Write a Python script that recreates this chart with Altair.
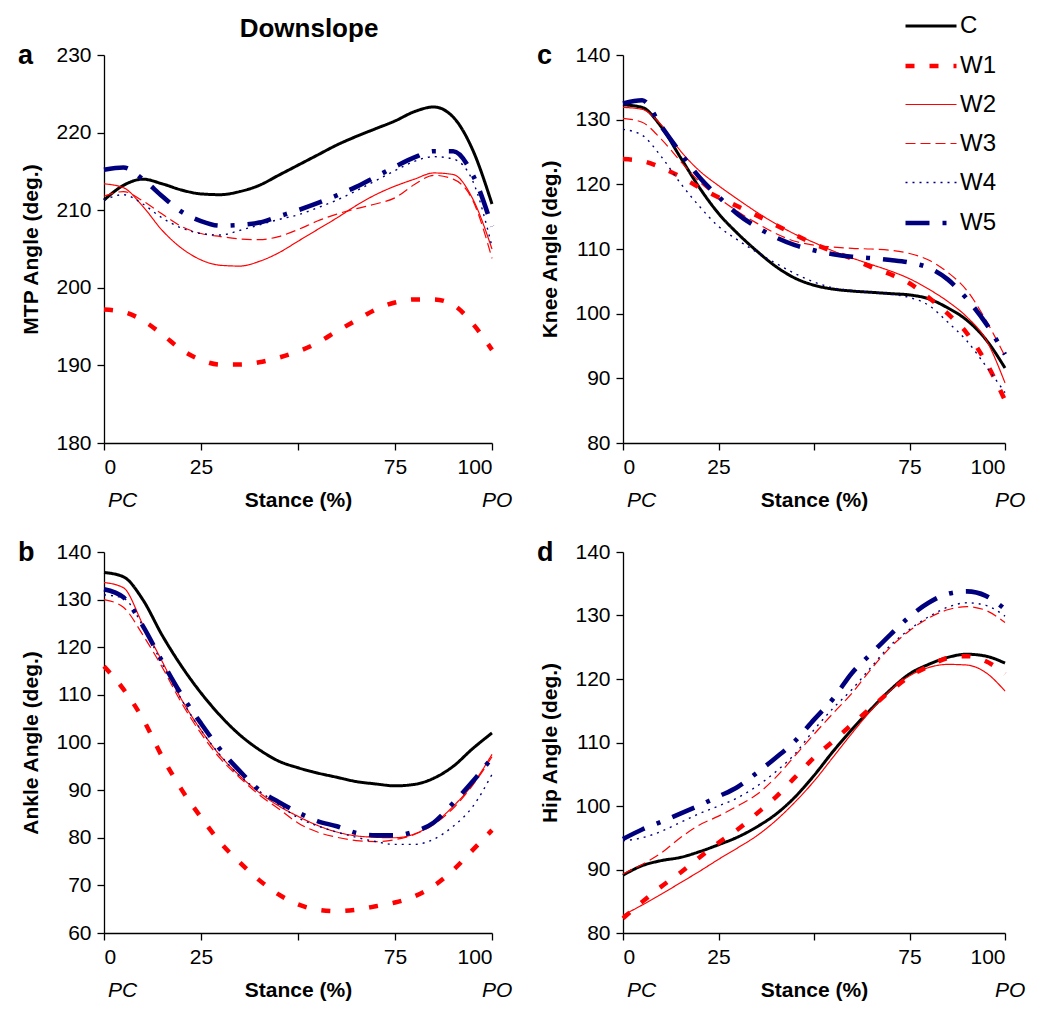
import altair as alt
import pandas as pd

FONT = "Liberation Sans"

stance = [0, 5, 10, 15, 20, 25, 30, 35, 40, 45, 50, 55, 60, 65, 70, 75, 80, 85, 90, 95, 100]
series_names = ["C", "W1", "W2", "W3", "W4", "W5"]
series_colors = ["#000000", "#FF0000", "#FF0000", "#FF0000", "#00007F", "#00007F"]
series_dashes = [[1, 0], [9, 15], [1, 0], [10, 5], [2, 5], [24, 13, 4, 13]]
series_widths = [3.0, 4.5, 1.2, 1.2, 1.4, 4.6]

# a: MTP angle
mtp_C = [211.3, 213.2, 214.0, 213.4, 212.6, 212.1, 212.0, 212.4, 213.2, 214.5, 215.8, 217.1, 218.4, 219.5, 220.5, 221.5, 222.7, 223.3, 222.0, 217.8, 210.8]
mtp_W1 = [197.2, 196.9, 195.8, 194.0, 192.0, 190.7, 190.1, 190.1, 190.4, 191.0, 191.8, 192.9, 194.4, 195.8, 197.2, 198.1, 198.5, 198.5, 197.8, 195.4, 192.0]
mtp_W2 = [213.4, 212.9, 210.5, 207.4, 205.1, 203.6, 202.9, 202.8, 203.4, 204.5, 206.0, 207.5, 209.0, 210.6, 212.0, 213.1, 214.0, 214.8, 214.6, 211.5, 205.0]
mtp_W3 = [211.8, 212.4, 211.2, 209.5, 207.9, 207.0, 206.6, 206.3, 206.2, 206.6, 207.5, 208.6, 209.5, 210.2, 210.8, 211.6, 213.3, 214.5, 214.0, 211.3, 203.8]
mtp_W4 = [211.3, 212.0, 210.8, 209.0, 207.7, 207.0, 206.8, 207.4, 208.1, 208.8, 209.4, 210.3, 211.3, 212.5, 213.8, 215.1, 216.3, 216.9, 216.6, 213.8, 205.3]
mtp_W5 = [215.2, 215.5, 214.0, 211.8, 209.8, 208.6, 208.0, 208.1, 208.4, 209.2, 210.0, 210.9, 211.9, 213.0, 214.3, 215.6, 216.8, 217.6, 217.6, 214.6, 207.9]

# b: Ankle angle
ankle_C = [135.7, 134.8, 130.0, 122.5, 116.0, 110.4, 105.6, 101.6, 98.5, 96.1, 94.7, 93.6, 92.7, 91.8, 91.3, 90.9, 91.2, 92.5, 95.0, 98.7, 102.0]
ankle_W1 = [116.0, 111.2, 105.0, 97.0, 90.1, 84.3, 79.0, 74.8, 71.1, 68.1, 66.0, 64.9, 64.6, 64.9, 65.6, 66.4, 67.7, 69.9, 73.2, 77.4, 81.6]
ankle_W2 = [133.6, 132.5, 124.8, 117.0, 109.0, 102.6, 97.2, 93.0, 89.5, 86.7, 84.5, 82.6, 81.2, 80.4, 80.1, 80.0, 80.8, 83.0, 86.6, 91.2, 97.5]
ankle_W3 = [130.0, 128.4, 122.6, 115.8, 108.3, 101.9, 96.6, 92.6, 89.0, 86.1, 83.1, 81.2, 80.1, 79.4, 79.2, 79.6, 80.7, 82.8, 86.2, 91.0, 97.0]
ankle_W4 = [131.0, 130.3, 124.5, 116.5, 109.0, 102.6, 97.3, 93.0, 89.8, 87.0, 84.2, 82.5, 81.2, 80.1, 79.2, 78.6, 78.6, 79.7, 82.4, 86.5, 93.3]
ankle_W5 = [132.2, 130.5, 124.5, 117.0, 110.0, 104.0, 98.5, 94.0, 90.0, 87.5, 85.3, 83.5, 82.4, 81.0, 80.5, 80.5, 81.3, 83.2, 87.3, 91.8, 96.8]

# c: Knee angle
knee_C = [132.3, 131.9, 128.9, 124.2, 119.5, 115.5, 112.4, 109.7, 107.3, 105.5, 104.4, 103.8, 103.5, 103.3, 103.1, 102.9, 102.3, 100.9, 99.0, 96.0, 91.6]
knee_W1 = [123.9, 123.6, 122.6, 121.2, 119.5, 118.0, 116.6, 115.2, 113.7, 112.2, 110.8, 109.6, 108.5, 107.2, 106.1, 104.7, 102.5, 100.0, 97.0, 92.5, 86.6]
knee_W2 = [131.9, 131.6, 129.2, 125.2, 122.1, 119.8, 117.7, 115.7, 113.9, 112.3, 111.0, 109.7, 108.6, 107.6, 106.6, 105.4, 103.8, 101.9, 99.5, 96.0, 89.3]
knee_W3 = [130.2, 129.6, 127.0, 123.6, 120.4, 117.9, 115.8, 114.0, 112.4, 111.2, 110.6, 110.3, 110.1, 110.0, 109.8, 109.3, 108.3, 106.4, 103.6, 99.0, 93.4]
knee_W4 = [128.5, 127.6, 124.3, 120.2, 116.6, 113.5, 111.4, 109.5, 107.8, 106.2, 104.9, 104.0, 103.6, 103.3, 103.0, 102.5, 101.3, 98.7, 95.8, 91.9, 87.8]
knee_W5 = [132.5, 133.0, 129.0, 124.9, 121.1, 118.1, 115.4, 113.4, 111.8, 110.6, 109.8, 109.2, 108.8, 108.6, 108.3, 107.9, 107.1, 105.3, 102.3, 98.5, 93.7]

# d: Hip angle
hip_C = [89.1, 90.6, 91.4, 91.9, 92.8, 93.9, 95.1, 96.7, 98.7, 101.4, 104.8, 108.6, 112.1, 115.3, 118.3, 120.8, 122.3, 123.4, 123.9, 123.6, 122.5]
hip_W1 = [82.3, 84.9, 87.3, 89.5, 91.9, 94.2, 96.3, 98.8, 101.4, 104.5, 107.6, 110.2, 112.9, 115.5, 118.1, 120.4, 122.0, 123.3, 123.6, 122.8, 120.8]
hip_W2 = [82.8, 84.4, 86.1, 87.9, 89.7, 91.6, 93.4, 95.3, 97.7, 100.6, 103.9, 107.7, 111.5, 115.1, 118.2, 120.5, 121.8, 122.3, 122.2, 121.0, 118.1]
hip_W3 = [89.3, 90.8, 92.6, 95.0, 97.0, 98.4, 100.0, 101.8, 104.5, 107.9, 111.3, 114.6, 117.8, 121.6, 125.0, 127.6, 129.6, 130.9, 131.4, 130.8, 128.9]
hip_W4 = [94.5, 95.0, 96.0, 97.4, 98.8, 100.0, 101.3, 103.1, 105.4, 108.2, 112.0, 115.4, 118.4, 121.9, 125.3, 127.8, 129.8, 131.3, 132.0, 131.6, 129.9]
hip_W5 = [94.8, 96.3, 97.5, 98.8, 100.1, 101.5, 103.0, 105.2, 107.6, 110.2, 113.6, 116.9, 121.0, 124.0, 127.0, 129.8, 132.0, 133.4, 133.8, 133.1, 131.0]


def to_frame(lists):
    rows = []
    for name, vals in zip(series_names, lists):
        for xv, yv in zip(stance, vals):
            rows.append({"x": xv, "series": name, "value": yv})
    return pd.DataFrame(rows)


def panel(lists, ytitle, domain, ticks, letter, width, height, title=None):
    df = to_frame(lists)
    legend = alt.Legend(title=None)
    lines = alt.Chart(df).mark_line(interpolate="monotone").encode(
        x=alt.X("x:Q", scale=alt.Scale(domain=[0, 100], nice=False),
                axis=alt.Axis(values=[0, 25, 50, 75, 100], title="Stance (%)",
                              labelExpr="datum.value == 50 ? '' : datum.label",
                              titlePadding=12)),
        y=alt.Y("value:Q", scale=alt.Scale(domain=domain, nice=False, zero=False),
                axis=alt.Axis(values=ticks, title=ytitle, titlePadding=14)),
        color=alt.Color("series:N", scale=alt.Scale(domain=series_names, range=series_colors), legend=legend),
        strokeDash=alt.StrokeDash("series:N", scale=alt.Scale(domain=series_names, range=series_dashes), legend=legend),
        strokeWidth=alt.StrokeWidth("series:N", scale=alt.Scale(type="ordinal", domain=series_names, range=series_widths), legend=legend),
    )
    pc = alt.Chart(pd.DataFrame({"t": ["PC"]})).mark_text(
        font=FONT, fontSize=21, fontStyle="italic", align="left", baseline="alphabetic", dx=4, color="black"
    ).encode(x=alt.datum(0), y=alt.value(height + 64), text="t:N")
    po = alt.Chart(pd.DataFrame({"t": ["PO"]})).mark_text(
        font=FONT, fontSize=21, fontStyle="italic", align="left", baseline="alphabetic", dx=-10, color="black"
    ).encode(x=alt.datum(100), y=alt.value(height + 64), text="t:N")
    let = alt.Chart(pd.DataFrame({"t": [letter]})).mark_text(
        font=FONT, fontSize=27, fontWeight="bold", align="left", baseline="alphabetic", color="black"
    ).encode(x=alt.value(-86), y=alt.value(9), text="t:N")
    ch = alt.layer(lines, pc, po, let).properties(width=width, height=height)
    if title:
        ch = ch.properties(title=alt.TitleParams(title, fontSize=26, font=FONT, fontWeight="bold",
                                                 dx=11, offset=0, color="black"))
    return ch


pa = panel([mtp_C, mtp_W1, mtp_W2, mtp_W3, mtp_W4, mtp_W5], "MTP Angle (deg.)", [180, 230],
           [180, 190, 200, 210, 220, 230], "a", 388, 388, "Downslope")
pc_ = panel([knee_C, knee_W1, knee_W2, knee_W3, knee_W4, knee_W5], "Knee Angle (deg.)", [80, 140],
            [80, 90, 100, 110, 120, 130, 140], "c", 382, 388)
pb = panel([ankle_C, ankle_W1, ankle_W2, ankle_W3, ankle_W4, ankle_W5], "Ankle Angle (deg.)", [60, 140],
           [60, 70, 80, 90, 100, 110, 120, 130, 140], "b", 388, 381)
pd_ = panel([hip_C, hip_W1, hip_W2, hip_W3, hip_W4, hip_W5], "Hip Angle (deg.)", [80, 140],
            [80, 90, 100, 110, 120, 130, 140], "d", 382, 381)

chart = alt.concat(pa, pc_, pb, pd_, columns=2, spacing={"row": 109, "column": 131}, bounds="flush").properties(
    padding={"left": 10, "top": -9, "right": 5, "bottom": 5}
).configure(font=FONT, background="white").configure_view(strokeWidth=0).configure_axis(
    domainColor="black", domainWidth=1.3, tickColor="black", tickWidth=1.3, tickSize=7,
    labelFont=FONT, labelFontSize=21, labelColor="black", labelPadding=6,
    titleFont=FONT, titleFontSize=21, titleFontWeight="bold", titleColor="black",
    grid=False
).configure_legend(
    orient="none", legendX=799, legendY=-56, symbolType="stroke", symbolSize=2601,
    labelFont=FONT, labelFontSize=24, labelColor="black", rowPadding=0, labelOffset=1,
    padding=0, symbolOffset=0
)

chart.save("out.html", embed_options={"renderer": "svg", "actions": False})
